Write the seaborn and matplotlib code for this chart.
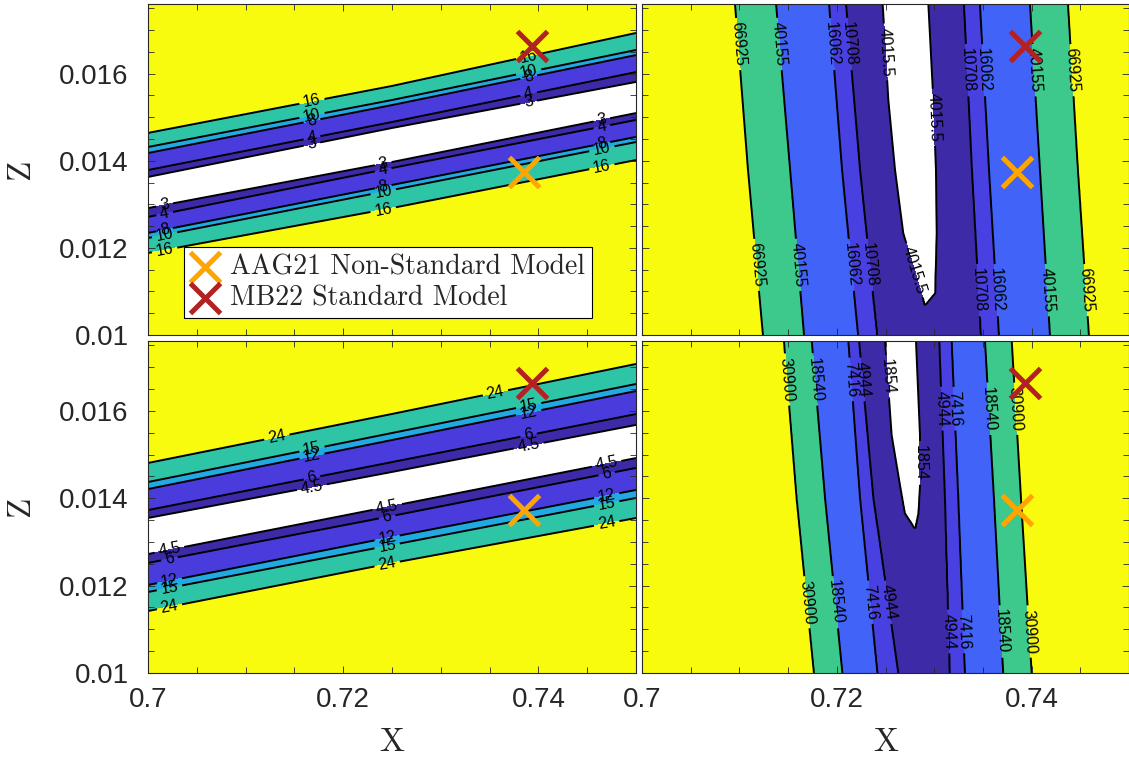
import numpy as np
import matplotlib
matplotlib.use("Agg")
import matplotlib.pyplot as plt
import matplotlib.ticker as mticker
import seaborn as sns

# ---- data (contour crossings) ----
# left panels: z of each band edge at x = 0.700, 0.725, 0.750
band_x = [0.700, 0.725, 0.750]

tl_levels = [3, 4, 8, 10, 16]
tl_upper = [[0.013628, 0.014753, 0.015809],
            [0.013789, 0.014891, 0.016039],
            [0.014179, 0.015281, 0.016429],
            [0.014317, 0.015396, 0.016544],
            [0.014638, 0.015717, 0.016934]]
tl_lower = [[0.012916, 0.013972, 0.015097],
            [0.012709, 0.013834, 0.014937],
            [0.012342, 0.013444, 0.014546],
            [0.012227, 0.013329, 0.014431],
            [0.011883, 0.012916, 0.014018]]

bl_levels = [4.5, 6, 12, 15, 24]
bl_upper = [[0.013548, 0.014601, 0.015677],
            [0.013731, 0.014830, 0.015929],
            [0.014212, 0.015334, 0.016456],
            [0.014372, 0.015494, 0.016616],
            [0.014807, 0.015929, 0.017074]]
bl_lower = [[0.012724, 0.013823, 0.014922],
            [0.012518, 0.013594, 0.014693],
            [0.012014, 0.013113, 0.014189],
            [0.011854, 0.012930, 0.014006],
            [0.011419, 0.012518, 0.013548]]

# right panels: x of each contour at z = bottom, middle, top
tr_z = [0.0100, 0.0138, 0.0176]
tr_levels = [4015.5, 10708, 16062, 40155, 66925]
tr_left = [[0.72413, 0.72238, 0.72094],
           [0.72218, 0.72053, 0.71920],
           [0.71663, 0.71520, 0.71376],
           [0.71242, 0.71088, 0.70955]]
tr_right = [[0.73481, 0.73388, 0.73306],
            [0.73665, 0.73563, 0.73470],
            [0.74189, 0.74086, 0.73984],
            [0.74589, 0.74476, 0.74374]]
tr_gap_z = [0.010689, 0.010957, 0.012335, 0.013789, 0.015396, 0.0176]
tr_gap_left = [0.72906, 0.72871, 0.72683, 0.72598, 0.72529, 0.72471]
tr_gap_right = [0.72906, 0.73008, 0.73025, 0.73018, 0.72991, 0.72940]

br_z = [0.0100, 0.0140, 0.0176]
br_levels = [1854, 4944, 7416, 18540, 30900]
br_left = [[0.72631, 0.72375, 0.72228],
           [0.72416, 0.72238, 0.72118],
           [0.72057, 0.71879, 0.71742],
           [0.71766, 0.71588, 0.71458]]
br_right = [[0.73162, 0.73111, 0.73053],
            [0.73316, 0.73248, 0.73180],
            [0.73709, 0.73614, 0.73522],
            [0.74001, 0.73891, 0.73796]]
br_gap_z = [0.013312, 0.013655, 0.014304, 0.015448, 0.0176]
br_gap_left = [0.72803, 0.72700, 0.72649, 0.72563, 0.72495]
br_gap_right = [0.72803, 0.72837, 0.72854, 0.72854, 0.72813]

# where the contour labels sit
tl_lab_upper_x = [0.7168, 0.7390]
tl_lab_lower_x = [0.7017, 0.7241, 0.7465]
bl_lab_upper_x = [0.7168, 0.7390]
bl_lab_outer_x = [0.7132, 0.7356]   # the upper "24" line
bl_lab_lower_x = [0.7022, 0.7245, 0.7470]
tr_lab_left_z = [0.01668, 0.01161]
tr_lab_right_z = [0.01608, 0.01103]
tr_lab_gap = [("L", 0.01650), ("L", 0.01149), ("R", 0.01500)]
br_lab_left_z = [0.01672, 0.01162]
br_lab_right_z = [0.01605, 0.01095]
br_lab_gap = [("L", 0.01678), ("R", 0.01481)]

models = ["AAG21 Non-Standard Model", "MB22 Standard Model"]
model_x = [0.7385, 0.7393]
model_z = [0.01374, 0.01663]
model_colors = ["#FFA500", "#B22222"]

left_colors = ["#ffffff", "#3d2aa8", "#4a3cdc", "#22a9e1", "#2ec5a6", "#f9fb0e"]
right_colors = ["#ffffff", "#3d2aa6", "#4840e0", "#4163f7", "#3dc98c", "#f9fb0e"]

xg = np.linspace(0.7, 0.75, 600)
zg = np.linspace(0.01, 0.0176, 500)


def band_field(xs, lower, upper, levels):
    big = levels[-1] * 10
    F = np.empty((len(zg), len(xg)))
    for j, x in enumerate(xg):
        lo = [np.interp(x, xs, line) for line in lower]
        up = [np.interp(x, xs, line) for line in upper]
        mid = 0.5 * (lo[0] + up[0])
        nodes = [0.0] + lo[::-1] + [mid] + up + [0.03]
        vals = [big] + levels[::-1] + [0] + levels + [big]
        F[:, j] = np.interp(zg, nodes, vals)
    return F


def finger_field(zs, left, right, gz, gl, gr, levels):
    big = levels[-1] * 10
    F = np.empty((len(zg), len(xg)))
    for i, z in enumerate(zg):
        le = [np.interp(z, zs, line) for line in left]
        ri = [np.interp(z, zs, line) for line in right]
        if z > gz[0]:
            a, b = np.interp(z, gz, gl), np.interp(z, gz, gr)
            mx, mv = [a, 0.5 * (a + b), b], [levels[0], 0, levels[0]]
        else:
            mx, mv = [gl[0]], [0.5 * (levels[0] + levels[1])]
        nodes = [0.6] + le[::-1] + mx + ri + [0.8]
        vals = [big] + levels[1:][::-1] + mv + levels[1:] + [big]
        F[i, :] = np.interp(xg, nodes, vals)
    return F


sns.set_style("ticks")
plt.rcParams["font.family"] = ["Liberation Sans", "DejaVu Sans"]
plt.rcParams["axes.unicode_minus"] = False

fig = plt.figure(figsize=(11.29, 7.58), dpi=100)
W, H = 1129, 758
boxes = {"tl": (148, 4, 636, 335), "tr": (642, 4, 1129, 335),
         "bl": (148, 341, 636, 673), "br": (642, 341, 1129, 673)}
axes = {}
for k, (x0, y0, x1, y1) in boxes.items():
    axes[k] = fig.add_axes([x0 / W, 1 - y1 / H, (x1 - x0) / W, (y1 - y0) / H])

panels = {
    "tl": (band_field(band_x, tl_lower, tl_upper, tl_levels), tl_levels, left_colors),
    "bl": (band_field(band_x, bl_lower, bl_upper, bl_levels), bl_levels, left_colors),
    "tr": (finger_field(tr_z, tr_left, tr_right, tr_gap_z, tr_gap_left, tr_gap_right, tr_levels),
           tr_levels, right_colors),
    "br": (finger_field(br_z, br_left, br_right, br_gap_z, br_gap_left, br_gap_right, br_levels),
           br_levels, right_colors),
}

serif = ["cmr10", "DejaVu Serif"]
tick_col = "#262626"

for k, ax in axes.items():
    F, levels, cols = panels[k]
    ax.set_axisbelow(False)
    ax.set_xlim(0.7, 0.75)
    ax.set_ylim(0.01, 0.0176)
    ax.contourf(xg, zg, F, levels=[-1] + levels + [levels[-1] * 100], colors=cols)
    cs = ax.contour(xg, zg, F, levels=levels, colors="k", linewidths=1.4)

    # label positions on the lines
    pts = []
    if k in ("tl", "bl"):
        lower, upper = (tl_lower, tl_upper) if k == "tl" else (bl_lower, bl_upper)
        ux, lx = (tl_lab_upper_x, tl_lab_lower_x) if k == "tl" else (bl_lab_upper_x, bl_lab_lower_x)
        for x in ux:
            inner = upper if k == "tl" else upper[:-1]
            pts += [(x, np.interp(x, band_x, line)) for line in inner]
        if k == "bl":
            pts += [(x, np.interp(x, band_x, upper[-1])) for x in bl_lab_outer_x]
        for x in lx:
            pts += [(x, np.interp(x, band_x, line)) for line in lower]
    else:
        if k == "tr":
            zs, left, right, gz, gl, gr = tr_z, tr_left, tr_right, tr_gap_z, tr_gap_left, tr_gap_right
            lz, rz, gap = tr_lab_left_z, tr_lab_right_z, tr_lab_gap
        else:
            zs, left, right, gz, gl, gr = br_z, br_left, br_right, br_gap_z, br_gap_left, br_gap_right
            lz, rz, gap = br_lab_left_z, br_lab_right_z, br_lab_gap
        for z in lz:
            pts += [(np.interp(z, zs, line), z) for line in left]
        for z in rz:
            pts += [(np.interp(z, zs, line), z) for line in right]
        for side, z in gap:
            pts.append((np.interp(z, gz, gl if side == "L" else gr), z))
    ax.clabel(cs, levels, manual=pts, fontsize=11.5, inline=True, inline_spacing=4,
              fmt=lambda v: f"{v:g}")

    for name, mx, mz, c in zip(models, model_x, model_z, model_colors):
        sns.scatterplot(x=[mx], y=[mz], marker="x", s=470, color=c, linewidth=3.6,
                        ax=ax, zorder=6, legend=False, label=name)

    ax.set_xticks([0.70, 0.72, 0.74])
    ax.xaxis.set_minor_locator(mticker.MultipleLocator(0.005))
    ax.set_yticks([0.010, 0.012, 0.014, 0.016])
    ax.yaxis.set_minor_locator(mticker.MultipleLocator(0.0005))
    ax.xaxis.set_major_formatter(mticker.FuncFormatter(lambda v, p: f"{v:g}"))
    ax.yaxis.set_major_formatter(mticker.FuncFormatter(lambda v, p: f"{v:g}"))
    ax.tick_params(which="both", direction="in", top=True, right=True,
                   width=0.6, color=tick_col, labelsize=20, labelcolor=tick_col)
    ax.tick_params(which="major", length=5)
    ax.tick_params(which="minor", length=4)
    ax.tick_params(axis="x", pad=10)
    ax.tick_params(axis="y", pad=14)
    for s in ax.spines.values():
        s.set_color(tick_col)
        s.set_linewidth(0.8)
        s.set_zorder(7)
    ax.set_xlabel("")
    ax.set_ylabel("")
    if k in ("tl", "tr"):
        ax.tick_params(labelbottom=False)
    else:
        ax.set_xlabel("X", fontfamily=serif, fontsize=24, color=tick_col)
        ax.xaxis.set_label_coords(0.5, -0.165)
    if k in ("tr", "br"):
        ax.tick_params(labelleft=False)
    else:
        ax.set_ylabel("Z", fontfamily=serif, fontsize=24, color=tick_col)
        ax.yaxis.set_label_coords(-0.232, 0.5)

leg = axes["tl"].legend(loc="lower left", bbox_to_anchor=(0.074, 0.051), borderaxespad=0,
                        prop={"family": serif, "size": 20}, frameon=True, fancybox=False,
                        edgecolor="k", framealpha=1, handletextpad=0.4, labelspacing=0.15,
                        borderpad=0.25, handlelength=1.0)
leg.get_frame().set_linewidth(0.8)
leg.set_zorder(10)

fig.savefig("out.png", dpi=100)
